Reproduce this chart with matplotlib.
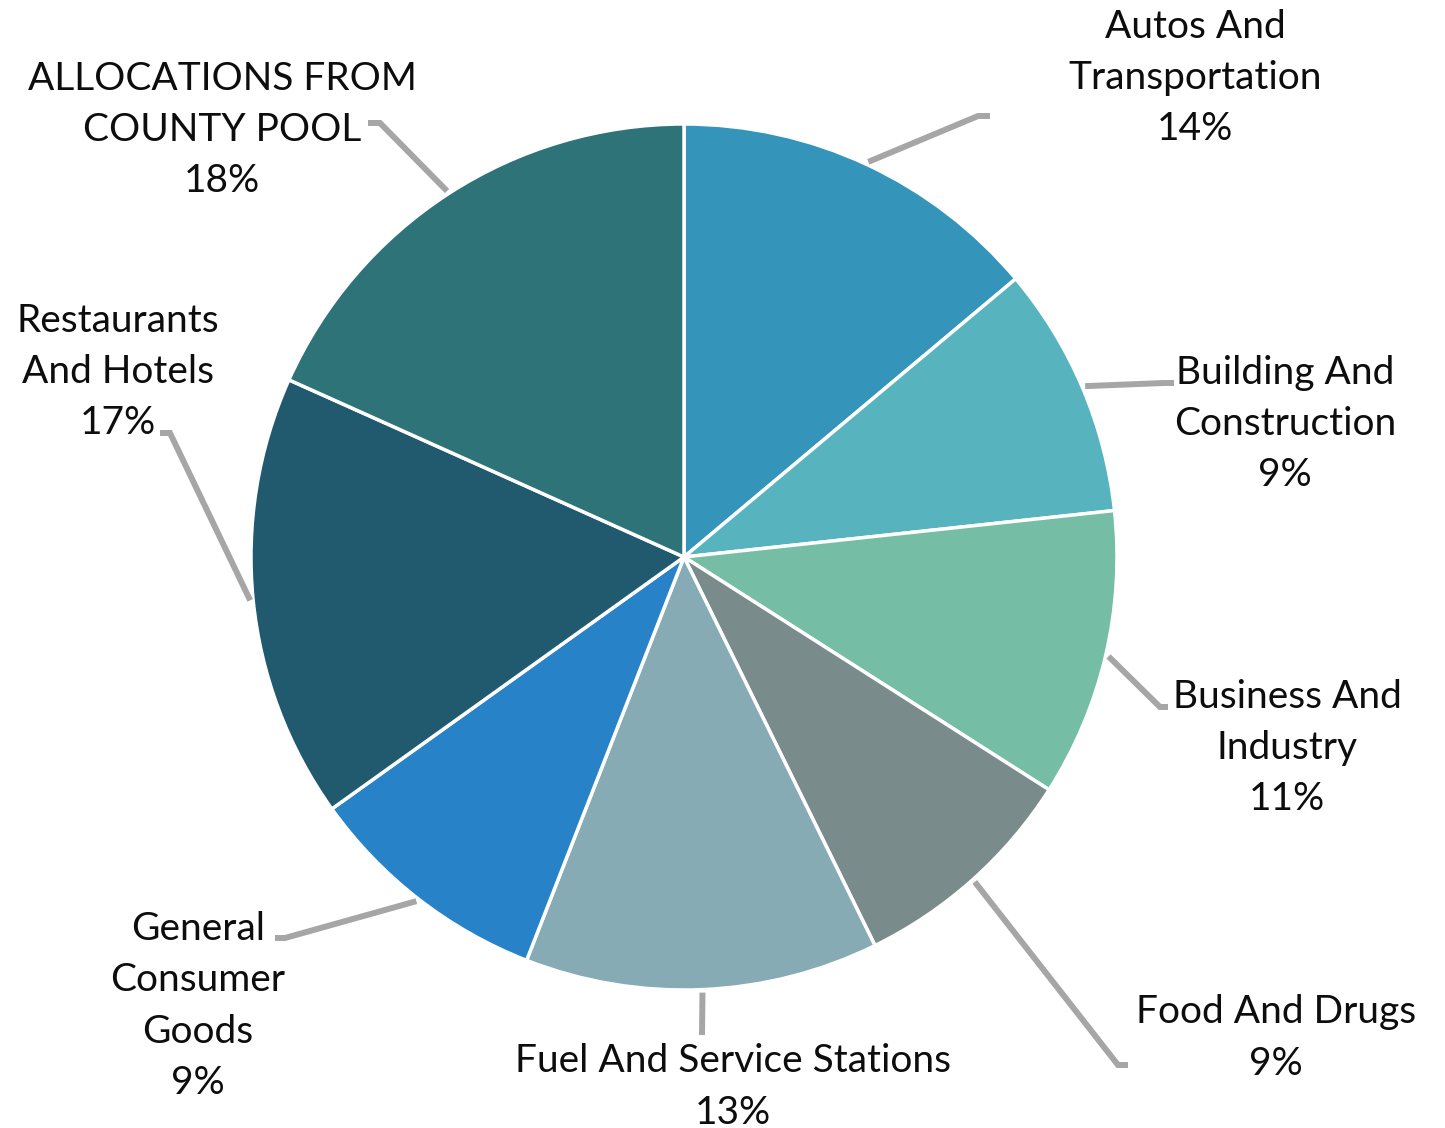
import numpy as np
import matplotlib
matplotlib.use("Agg")
import matplotlib.pyplot as plt

plt.rcParams['font.family'] = ['Lato', 'DejaVu Sans']

# slice data (clockwise from 12 o'clock)
labels = ["Autos And\nTransportation", "Building And\nConstruction", "Business And\nIndustry",
          "Food And Drugs", "Fuel And Service Stations", "General\nConsumer\nGoods",
          "Restaurants\nAnd Hotels", "ALLOCATIONS FROM\nCOUNTY POOL"]
values = [13.9, 9.4, 10.75, 8.7, 13.2, 9.2, 16.6, 18.3]
pcts = ["14%", "9%", "11%", "9%", "13%", "9%", "17%", "18%"]
colors = ["#3594BA", "#57B4BF", "#76BDA6", "#7A8B8B", "#86ABB4", "#2882C8", "#21596F", "#2E7378"]

W, H = 1445, 1128
fig = plt.figure(figsize=(14.45, 11.28), dpi=100)
ax = fig.add_axes([0, 0, 1, 1])

cx, cy, r = 684, H - 557, 433
ax.pie(values, colors=colors, startangle=90, counterclock=False,
       center=(cx, cy), radius=r,
       wedgeprops=dict(edgecolor="white", linewidth=2.5))

# label block positions and leader elbows (pixel coords from top)
lab_xy = [(1195, 78), (1285, 424), (1287, 748), (1276, 1038),
          (733, 1087), (198, 1006), (118, 372), (222, 130)]
elbow = [(978, 116), (1164, 383), (1160, 707), (1118, 1065),
         (702, 1035), (285, 938), (170, 433), (380, 123)]
ends = [(990, 116), (1174, 383), (1168, 707), (1128, 1065),
        (702, 1035), (275, 938), (160, 433), (368, 123)]

total = sum(values)
cum = 0
for i, v in enumerate(values):
    ang = np.deg2rad((cum + v / 2) / total * 360)
    cum += v
    sx = cx + (r + 3) * np.sin(ang)
    sy = cy + (r + 3) * np.cos(ang)
    ex, ey = elbow[i]
    fx, fy = ends[i]
    ax.plot([sx, ex, fx], [sy, H - ey, H - fy], color="#A6A6A6", lw=4.3,
            solid_capstyle="butt", solid_joinstyle="miter", zorder=3)
    tx, ty = lab_xy[i]
    ax.text(tx, H - ty, labels[i] + "\n" + pcts[i], ha="center", va="center",
            fontsize=28, color="#0D0D0D", linespacing=1.53, zorder=4)

ax.set_xlim(0, W)
ax.set_ylim(0, H)
ax.set_aspect("auto")
ax.axis("off")

plt.savefig("out.png", dpi=100)
